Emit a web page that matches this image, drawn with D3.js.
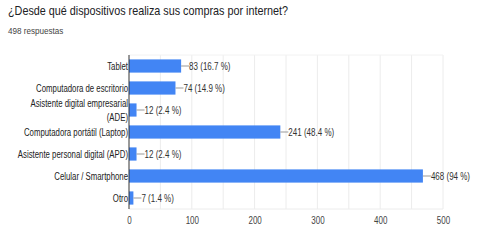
<!DOCTYPE html>
<html lang="es">
<head>
<meta charset="UTF-8">
<title>Dispositivos de compra</title>
<style>
  body { margin: 0; background: #fff; }
  svg text { font-family: "Liberation Sans", Arial, sans-serif; }
</style>
<script src="https://d3js.org/d3.v7.min.js"></script>
</head>
<body>
<script>
var categories = ["Tablet", "Computadora de escritorio", "Asistente digital empresarial (ADE)",
                  "Computadora portátil (Laptop)", "Asistente personal digital (APD)",
                  "Celular / Smartphone", "Otro"];
var counts = [83, 74, 12, 241, 12, 468, 7];
var percents = ["16.7", "14.9", "2.4", "48.4", "2.4", "94", "1.4"];
var xTicks = [0, 100, 200, 300, 400, 500];
var gridValues = [50, 100, 150, 200, 250, 300, 350, 400, 450, 500];

var width = 492, height = 250;
var plotLeft = 129, plotRight = 443, plotTop = 55, plotBottom = 209;

var svg = d3.select("body").append("svg")
    .attr("width", width)
    .attr("height", height);

// squeeze text horizontally, the reference glyphs are narrow
function narrow(sel, k) {
    sel.each(function() {
        var len = this.getComputedTextLength();
        d3.select(this).attr("textLength", len * k).attr("lengthAdjust", "spacingAndGlyphs");
    });
}

svg.append("text")
    .attr("x", 8).attr("y", 15)
    .attr("font-size", 13)
    .attr("fill", "#202124")
    .text("¿Desde qué dispositivos realiza sus compras por internet?")
    .call(narrow, 0.83);

svg.append("text")
    .attr("x", 8).attr("y", 34)
    .attr("font-size", 9)
    .attr("fill", "#444")
    .text("498 respuestas")
    .call(narrow, 0.9);

var x = d3.scaleLinear().domain([0, 500]).range([plotLeft, plotRight]);
var y = d3.scaleBand().domain(categories).range([plotTop, plotBottom]).paddingInner(0.4).paddingOuter(0.2);

// gridlines
svg.append("g").selectAll("line")
    .data(gridValues)
    .enter().append("line")
    .attr("x1", d => x(d)).attr("x2", d => x(d))
    .attr("y1", plotTop).attr("y2", plotBottom)
    .attr("stroke", "#ececec").attr("stroke-width", 1);

svg.append("line")
    .attr("x1", plotLeft).attr("x2", plotRight)
    .attr("y1", plotTop).attr("y2", plotTop)
    .attr("stroke", "#f2f2f2");
svg.append("line")
    .attr("x1", plotLeft).attr("x2", plotRight)
    .attr("y1", plotBottom).attr("y2", plotBottom)
    .attr("stroke", "#ececec");

// bars
svg.append("g").selectAll("rect")
    .data(counts)
    .enter().append("rect")
    .attr("x", x(0))
    .attr("y", (d, i) => y(categories[i]))
    .attr("width", d => x(d) - x(0))
    .attr("height", y.bandwidth())
    .attr("fill", "#4285f4");

// value labels with leader lines
var lab = svg.append("g").selectAll("g")
    .data(counts)
    .enter().append("g")
    .attr("transform", (d, i) => "translate(" + x(d) + "," + (y(categories[i]) + y.bandwidth() / 2) + ")");
lab.append("line")
    .attr("x1", 0).attr("x2", 8)
    .attr("stroke", "#999").attr("stroke-width", 1);
lab.append("text")
    .attr("x", 8).attr("dy", "0.35em")
    .attr("font-size", 10).attr("fill", "#333")
    .text((d, i) => d + " (" + percents[i] + " %)")
    .call(narrow, 0.8);

// category labels
var catG = svg.append("g");
categories.forEach(function(d) {
    var cy = y(d) + y.bandwidth() / 2;
    var lines = d === "Asistente digital empresarial (ADE)"
        ? ["Asistente digital empresarial", "(ADE)"] : [d];
    lines.forEach(function(line, j) {
        catG.append("text")
            .attr("x", plotLeft - 1)
            .attr("y", cy + (j - (lines.length - 1) / 2) * 14)
            .attr("dy", "0.35em")
            .attr("text-anchor", "end")
            .attr("font-size", 10)
            .attr("fill", "#222")
            .text(line)
            .call(narrow, 0.78);
    });
});

// y axis line
svg.append("line")
    .attr("x1", x(0)).attr("x2", x(0))
    .attr("y1", plotTop).attr("y2", plotBottom)
    .attr("stroke", "#333").attr("stroke-width", 1);

// x axis
var xAxis = d3.axisBottom(x).tickValues(xTicks).tickSize(0).tickPadding(8);
var xg = svg.append("g").attr("transform", "translate(0," + plotBottom + ")").call(xAxis);
xg.select(".domain").remove();
xg.selectAll("text").attr("font-size", 10).attr("fill", "#444")
    .attr("font-family", "Liberation Sans, Arial, sans-serif")
    .call(narrow, 0.8);
</script>
</body>
</html>
